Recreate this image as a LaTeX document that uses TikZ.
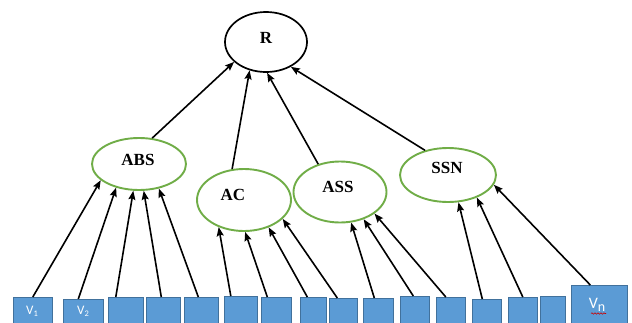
\documentclass[tikz,border=0pt]{standalone}
\usepackage{fontspec}
\setmainfont{Liberation Serif}
\newfontfamily\boxfont{Carlito}
\usetikzlibrary{shapes.geometric,arrows.meta,decorations.pathmorphing}

\definecolor{boxfill}{HTML}{5B9BD5}
\definecolor{boxline}{HTML}{41719C}
\definecolor{attrgreen}{HTML}{70AD47}

\tikzset{
  lbl/.style={font=\fontsize{17}{19}\selectfont\bfseries, text=black, inner sep=0pt},
  root/.style={ellipse, draw=black, line width=1.7pt, fill=white, inner sep=0pt},
  attr/.style={ellipse, draw=attrgreen, line width=1.9pt, fill=white, inner sep=0pt},
  vbox/.style={rectangle, draw=boxline, line width=0.6pt, fill=boxfill, inner sep=0pt, anchor=north west},
  vlbl/.style={text=white, inner sep=0pt, font=\boxfont\fontsize{13}{14}\selectfont},
  arr/.style={draw=black, line width=1.6pt, -{Stealth[length=9pt,width=7pt,inset=1.5pt]}},
}

\begin{document}
\begin{tikzpicture}[x=1pt,y=-1pt]
  \clip (0,0) rectangle (632,322);
  \fill[white] (0,0) rectangle (632,322);

  % root and attribute ellipses
  \node[root, minimum width=82pt, minimum height=60pt,
        label={[lbl, yshift=4pt]center:R}] (R) at (266,42) {};
  \node[attr, minimum width=94pt, minimum height=52pt,
        label={[lbl, xshift=-1pt, yshift=4pt]center:ABS}] (ABS) at (139,164) {};
  \node[attr, minimum width=94pt, minimum height=62pt,
        label={[lbl, xshift=-11pt, yshift=5pt]center:AC}] (AC) at (244,200) {};
  \node[attr, minimum width=93pt, minimum height=61pt,
        label={[lbl, xshift=-2pt, yshift=5pt]center:ASS}] (ASS) at (340,192) {};
  \node[attr, minimum width=96pt, minimum height=54pt,
        label={[lbl, xshift=-1pt, yshift=7pt]center:SSN}] (SSN) at (448,175) {};

  % variable boxes along the bottom edge
  \node[vbox, minimum width=39pt, minimum height=26pt] (b1) at (13,297) {};
  \node[vbox, minimum width=40pt, minimum height=24pt] (b2) at (63,299) {};
  \node[vbox, minimum width=35pt, minimum height=26pt] (b3) at (108,297) {};
  \node[vbox, minimum width=34pt, minimum height=26pt] (b4) at (146,297) {};
  \node[vbox, minimum width=34pt, minimum height=26pt] (b5) at (184,297) {};
  \node[vbox, minimum width=33pt, minimum height=27pt] (b6) at (224,296) {};
  \node[vbox, minimum width=30pt, minimum height=26pt] (b7) at (261,297) {};
  \node[vbox, minimum width=26pt, minimum height=26pt] (b8) at (300,297) {};
  \node[vbox, minimum width=28pt, minimum height=25pt] (b9) at (329,298) {};
  \node[vbox, minimum width=30pt, minimum height=25pt] (b10) at (363,298) {};
  \node[vbox, minimum width=29pt, minimum height=27pt] (b11) at (400,296) {};
  \node[vbox, minimum width=29pt, minimum height=26pt] (b12) at (436,297) {};
  \node[vbox, minimum width=29pt, minimum height=24pt] (b13) at (472,299) {};
  \node[vbox, minimum width=29pt, minimum height=26pt] (b14) at (508,297) {};
  \node[vbox, minimum width=25pt, minimum height=27pt] (b15) at (540,296) {};
  \node[vbox, minimum width=56pt, minimum height=38pt] (bn) at (571,285) {};

  % box captions
  \node[vlbl] (v1) at (32,311) {V\raisebox{-2pt}{\fontsize{8.5}{9}\selectfont 1}};
  \node[vlbl] (v2) at (83,311) {V\raisebox{-2pt}{\fontsize{8.5}{9}\selectfont 2}};
  \node[vlbl, font=\boxfont\fontsize{16}{17}\selectfont] (vn) at (597,305)
       {V\raisebox{-2.5pt}{\fontsize{14}{15}\selectfont n}};
  \coordinate (sqa) at (591,313.5);
  \coordinate (sqb) at (606,313.5);
  \draw[red!80!black, line width=0.6pt,
        decorate, decoration={snake, amplitude=0.7pt, segment length=3pt}] (sqa) -- (sqb);

  % variables feeding ABS
  \draw[arr] (b1.north)               -- (ABS.203);
  \draw[arr] ([xshift=-5pt]b2.north)  -- (ABS.226);
  \draw[arr] ([xshift=-10pt]b3.north) -- (ABS.258);
  \draw[arr] ([xshift=-2pt]b4.north)  -- (ABS.280);
  \draw[arr] ([xshift=-3pt]b5.north)  -- (ABS.309);

  % variables feeding AC
  \draw[arr] ([xshift=-10pt]b6.north) -- (AC.227);
  \draw[arr] ([xshift=-9pt]b7.north)  -- (AC.272);
  \draw[arr] ([xshift=-6pt]b8.north)  -- (AC.312);
  \draw[arr] ([xshift=-6pt]b9.north)  -- (AC.334);

  % variables feeding ASS
  \draw[arr] ([xshift=-4pt]b10.north)   -- (ASS.290);
  \draw[arr] ([xshift=-1.5pt]b11.north) -- (ASS.311);
  \draw[arr] ([xshift=-5pt]b12.north)   -- (ASS.328);

  % variables feeding SSN
  \draw[arr] ([xshift=-4.5pt]b13.north) -- (SSN.291);
  \draw[arr] (b14.north)                -- (SSN.322);
  \draw[arr] ([xshift=-9pt]bn.north)    -- (SSN.348);

  % attributes feeding R
  \draw[arr] (ABS.63)  -- (R.212);
  \draw[arr] (AC.111)  -- (R.240);
  \draw[arr] (ASS.128) -- (R.272);
  \draw[arr] (SSN.133) -- (R.315);
\end{tikzpicture}
\end{document}
